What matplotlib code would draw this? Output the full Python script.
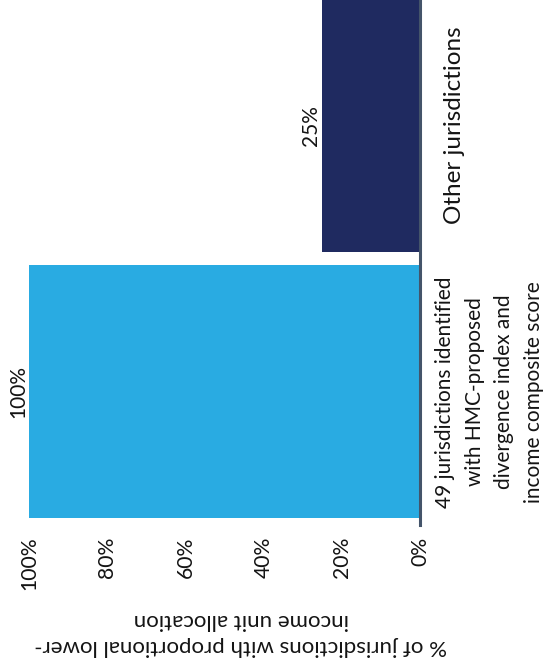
import matplotlib

matplotlib.use("Agg")
import matplotlib.pyplot as plt

# data
categories = [
    "49 jurisdictions identified\nwith HMC-proposed\ndivergence index and\nincome composite score",
    "Other jurisdictions",
]
shares = [100, 25]
ticks = [0, 20, 40, 60, 80, 100]
axis_title = "% of jurisdictions with proportional lower-\nincome unit allocation"

BLUE = "#29ABE2"
NAVY = "#1F2A60"
SLATE = "#44546A"
INK = "#141414"
FONT = ["Lato", "DejaVu Sans"]

plt.rcParams["font.family"] = FONT

W, H = 548, 669
fig = plt.figure(figsize=(W / 100, H / 100), dpi=100)
fig.patch.set_facecolor("white")
# whole chart is laid on its side: bars run right-to-left, text turned 90 deg
ax = fig.add_axes([29 / W, 144 / H, 391 / W, 525 / H])

ypos = list(range(len(categories)))
ax.barh(ypos, shares, height=0.95, color=[BLUE, NAVY], zorder=2)
ax.set_xlim(100, 0)
ax.set_ylim(-0.5, 1.472)

for side in ("left", "top", "bottom"):
    ax.spines[side].set_visible(False)
ax.spines["right"].set_color(SLATE)
ax.spines["right"].set_linewidth(2.2)
ax.spines["right"].set_zorder(3)

ax.set_yticks([])
ax.set_xticks(ticks)
ax.set_xticklabels([f"{t}%" for t in ticks])
ax.tick_params(axis="x", length=0, pad=8.5, labelsize=15.2, labelrotation=90, colors=INK)

ax.set_xlabel(axis_title, rotation=180, fontsize=16, linespacing=1.35, color=INK)
ax.xaxis.set_label_coords(0.542, -0.206)
ax.xaxis.label.set_va("center")

# value labels past the bar ends
for i, v in zip(ypos, shares):
    ax.annotate(f"{v}%", xy=(v, i), xytext=(-11, 0), textcoords="offset pixels",
                rotation=90, ha="center", va="center", fontsize=15, color=INK,
                annotation_clip=False)

# category labels to the right of the baseline
label_pad = [15, 24]
label_size = [15, 17.5]
for i, name, pad, size in zip(ypos, categories, label_pad, label_size):
    ax.annotate(name, xy=(0, i), xytext=(pad, 0), textcoords="offset pixels",
                rotation=90, ha="left", va="center", multialignment="center",
                linespacing=1.6, fontsize=size, color=INK, annotation_clip=False)

fig.savefig("out.png", dpi=100, facecolor="white")
